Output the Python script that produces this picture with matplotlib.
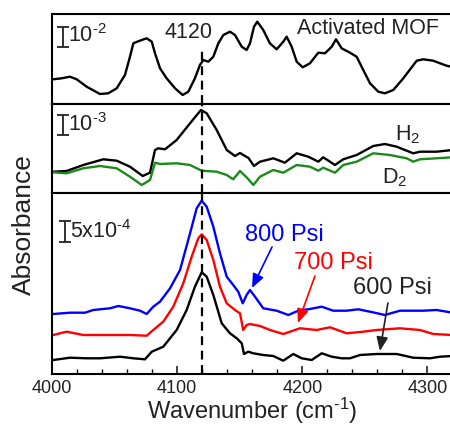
import numpy as np
import matplotlib
matplotlib.use('Agg')
import matplotlib.pyplot as plt

plt.rcParams['font.family'] = ['Liberation Sans', 'DejaVu Sans']
plt.rcParams['mathtext.fontset'] = 'custom'
plt.rcParams['mathtext.rm'] = 'Liberation Sans'
plt.rcParams['mathtext.it'] = 'Liberation Sans:italic'

# Activated MOF (top panel), arbitrary units
mof_wn = [4001.0, 4007.7, 4014.4, 4019.7, 4027.7, 4038.3, 4045.0, 4051.7, 4058.3, 4062.3,
          4065.0, 4068.1, 4071.7, 4075.7, 4079.7, 4082.3, 4086.3, 4091.6, 4098.3, 4104.4,
          4108.9, 4114.2, 4118.2, 4120.9, 4124.9, 4128.9, 4132.9, 4136.9, 4142.2, 4146.2,
          4151.6, 4155.5, 4158.2, 4161.4, 4164.0, 4168.8, 4174.1, 4179.5, 4184.8, 4187.5,
          4191.5, 4195.5, 4200.3, 4206.1, 4212.8, 4218.1, 4223.5, 4226.9, 4231.4, 4238.1,
          4243.4, 4248.7, 4254.1, 4260.7, 4266.0, 4272.7, 4280.7, 4291.4, 4296.6, 4304.6,
          4310.0, 4315.3, 4320.0]
mof_abs = [24.7, 25.7, 27.3, 24.7, 17.3, 10.0, 10.7, 15.7, 29.0, 47.3,
           60.7, 62.3, 64.0, 65.7, 62.3, 50.7, 35.7, 25.7, 15.7, 9.0,
           12.3, 25.7, 39.0, 44.0, 42.3, 47.3, 60.7, 69.0, 72.3, 69.0,
           57.3, 54.0, 60.7, 77.3, 82.3, 74.0, 60.7, 54.7, 62.3, 67.3,
           57.3, 42.3, 36.7, 40.7, 51.3, 50.7, 57.3, 64.7, 55.7, 51.3,
           47.3, 34.0, 20.7, 12.3, 10.7, 14.0, 25.7, 43.3, 44.7, 43.3,
           40.7, 38.3, 37.0]

# H2 and D2 loaded (middle panel)
h2_wn = [4001.0, 4011.7, 4025.0, 4041.0, 4051.7, 4062.3, 4072.5, 4078.3, 4082.3, 4084.9,
         4090.3, 4099.6, 4110.3, 4119.0, 4123.6, 4131.6, 4139.6, 4146.2, 4150.2, 4154.2,
         4157.0, 4161.4, 4166.2, 4176.8, 4186.1, 4195.5, 4204.8, 4212.8, 4216.7, 4226.1,
         4232.7, 4243.4, 4256.7, 4266.0, 4275.4, 4288.6, 4294.0, 4307.3, 4320.0]
h2_abs = [21.3, 22.0, 28.0, 33.7, 32.3, 26.3, 17.0, 20.3, 43.0, 44.7,
          43.7, 53.0, 69.7, 83.0, 79.7, 63.0, 43.0, 37.0, 40.0, 37.0,
          35.0, 27.0, 31.3, 34.7, 30.3, 39.7, 36.3, 31.3, 35.7, 28.0,
          33.7, 38.0, 47.0, 49.0, 46.3, 39.7, 41.3, 41.3, 43.0]
d2_wn = [4001.0, 4011.7, 4025.0, 4038.3, 4051.7, 4062.3, 4071.7, 4078.3, 4082.3, 4086.3,
         4099.6, 4110.3, 4119.6, 4131.6, 4139.6, 4144.8, 4150.2, 4156.0, 4160.9, 4166.2,
         4176.8, 4184.8, 4195.5, 4206.1, 4212.8, 4216.7, 4226.1, 4232.7, 4243.4, 4256.7,
         4270.0, 4283.4, 4288.6, 4294.0, 4320.0]
d2_abs = [20.7, 19.7, 24.7, 27.0, 24.7, 16.3, 8.0, 13.0, 30.3, 29.0,
          29.7, 28.0, 22.3, 21.3, 18.0, 13.7, 22.0, 15.0, 8.0, 16.3,
          23.0, 20.3, 28.0, 26.3, 22.3, 25.3, 20.3, 28.0, 31.3, 39.7,
          38.0, 34.7, 31.3, 33.7, 35.7]

# pressure series (bottom panel)
p800_wn = [4001.0, 4014.4, 4026.4, 4033.0, 4046.3, 4053.0, 4062.3, 4070.3, 4075.7, 4080.9,
           4086.3, 4094.3, 4102.3, 4110.3, 4115.6, 4119.6, 4123.6, 4128.9, 4134.2, 4139.6,
           4144.8, 4148.8, 4152.4, 4155.5, 4158.2, 4162.2, 4168.8, 4179.5, 4188.8, 4198.1,
           4204.8, 4215.5, 4224.7, 4235.4, 4244.7, 4254.1, 4266.0, 4278.0, 4296.6, 4307.3,
           4320.0]
p800_abs = [60.0, 61.3, 61.3, 64.0, 65.7, 68.0, 65.7, 63.3, 60.0, 67.3,
            72.3, 85.7, 104.0, 140.7, 165.7, 173.3, 167.3, 147.3, 120.7, 97.3,
            89.0, 82.3, 70.7, 79.0, 84.0, 77.3, 65.7, 63.3, 59.0, 64.0,
            64.7, 67.3, 63.3, 63.3, 64.7, 62.3, 59.0, 63.3, 63.3, 64.0,
            61.3]
p700_wn = [4001.0, 4011.7, 4025.0, 4038.3, 4051.7, 4062.3, 4075.7, 4080.9, 4088.9, 4096.9,
           4104.9, 4111.6, 4116.9, 4119.6, 4123.6, 4128.9, 4134.2, 4139.6, 4146.2, 4150.2,
           4152.8, 4155.5, 4158.2, 4166.2, 4174.2, 4184.8, 4198.1, 4211.5, 4222.1, 4235.4,
           4248.7, 4259.4, 4278.0, 4294.0, 4304.6, 4320.0]
p700_abs = [39.0, 42.3, 39.0, 39.0, 39.0, 39.0, 38.3, 44.0, 52.3, 67.3,
            90.7, 117.3, 135.7, 139.7, 134.0, 114.0, 87.3, 70.7, 64.0, 60.7,
            44.0, 49.0, 50.0, 48.0, 44.0, 40.0, 45.7, 44.0, 46.7, 40.7,
            42.3, 44.0, 45.7, 44.0, 40.0, 39.0]
p600_wn = [4001.0, 4014.4, 4027.7, 4038.3, 4054.3, 4065.0, 4074.3, 4079.7, 4088.9, 4099.6,
           4107.6, 4114.2, 4119.6, 4123.6, 4128.9, 4135.6, 4142.2, 4147.6, 4151.6, 4153.4,
           4156.8, 4160.8, 4168.8, 4176.8, 4184.8, 4192.8, 4199.5, 4207.5, 4215.5, 4223.5,
           4231.4, 4238.1, 4246.1, 4259.4, 4275.4, 4288.6, 4302.0, 4310.0, 4320.0]
p600_abs = [14.0, 16.3, 15.7, 15.7, 17.3, 15.7, 14.7, 22.3, 27.3, 44.0,
            64.0, 87.3, 101.7, 97.3, 79.0, 50.7, 40.7, 35.7, 30.7, 20.0,
            22.3, 20.7, 19.0, 18.0, 13.3, 20.0, 15.7, 14.0, 20.7, 17.3,
            15.7, 15.7, 19.0, 20.0, 20.0, 16.3, 15.7, 17.3, 18.0]

peak = 4120
lw = 1.7
ink = '#222222'

fig = plt.figure(figsize=(4.5, 4.25), dpi=100)
x0, w = 52 / 450, 400.5 / 450
ax_top = fig.add_axes([x0, 321 / 425, w, 90 / 425])
ax_mid = fig.add_axes([x0, 232 / 425, w, 89 / 425])
ax_bot = fig.add_axes([x0, 51 / 425, w, 181 / 425])

for ax, top in ((ax_top, 90), (ax_mid, 89), (ax_bot, 181)):
    ax.set_xlim(4000, 4320)
    ax.set_ylim(0, top)
    ax.set_yticks([])
    for s in ax.spines.values():
        s.set_linewidth(1.5)

for ax in (ax_top, ax_mid):
    ax.set_xticks([])

ax_top.plot(mof_wn, mof_abs, color='black', lw=lw)
ax_mid.plot(h2_wn, h2_abs, color='black', lw=lw)
ax_mid.plot(d2_wn, d2_abs, color='#1b8a1b', lw=lw)
ax_bot.plot(p800_wn, p800_abs, color='#0000ff', lw=lw)
ax_bot.plot(p700_wn, p700_abs, color='#ff0000', lw=lw)
ax_bot.plot(p600_wn, p600_abs, color='black', lw=lw)

# dashed marker at 4120
dash = dict(color='black', lw=1.6, ls=(0, (4, 2.5)))
ax_top.axvline(peak, ymin=0, ymax=56 / 90, **dash)
ax_mid.axvline(peak, **dash)
ax_bot.axvline(peak, **dash)

# scale bars
bar = dict(fmt='none', ecolor=ink, elinewidth=1.3, capsize=4, capthick=1.3)
ax_top.errorbar([4009], [67.3], yerr=[10], **bar)
ax_mid.errorbar([4009], [68], yerr=[10], **bar)
ax_bot.errorbar([4010.4], [142.5], yerr=[10.8], **bar)
tk = dict(fontsize=15.5, color=ink, va='center', ha='left')
ax_top.text(4013, 68, r'10$^{\text{-}2}$', **tk)
ax_mid.text(4013, 68, r'10$^{\text{-}3}$', **tk)
ax_bot.text(4014, 142, r'5x10$^{\text{-}4}$', **tk)

ax_top.text(4108.7, 71, '4120', fontsize=15.5, color=ink, ha='center', va='center')
ax_top.text(4252.5, 76, 'Activated MOF', fontsize=15.5, color=ink, ha='center', va='center')
ax_mid.text(4284, 58, 'H$_2$', fontsize=15.5, color=ink, ha='center', va='center')
ax_mid.text(4274, 15, 'D$_2$', fontsize=15.5, color=ink, ha='center', va='center')

# pressure labels with arrows
labels = [('800 Psi', '#0000ff', (4186, 139), (4175.8, 127), (4159.8, 86)),
          ('700 Psi', '#ff0000', (4224.5, 111), (4210.1, 98), (4196.5, 51)),
          ('600 Psi', ink, (4272.4, 86), (4268.4, 71), (4262, 23))]
for txt, c, pos, tail, head in labels:
    ax_bot.text(pos[0], pos[1], txt, color=c, fontsize=17, ha='center', va='center')
    ax_bot.annotate('', xy=head, xytext=tail,
                    arrowprops=dict(arrowstyle='-|>,head_length=0.6,head_width=0.25',
                                    color=c, lw=1.2, mutation_scale=14,
                                    shrinkA=0, shrinkB=0))

ax_bot.set_xticks([4000, 4100, 4200, 4300])
ax_bot.set_xticks(np.arange(4000, 4321, 20), minor=True)
ax_bot.tick_params(axis='x', which='major', direction='in', length=6, width=1.2,
                   labelsize=13, pad=4.5, colors=ink, top=False)
ax_bot.tick_params(axis='x', which='minor', direction='in', length=3.5, width=1.0, top=False)
ax_bot.set_xlabel(r'Wavenumber (cm$^{\text{-}1}$)', fontsize=17, color=ink, labelpad=-0.8)

fig.text(24 / 450, 1 - 225 / 425, 'Absorbance', rotation=90, fontsize=19,
         color=ink, ha='center', va='center')

fig.savefig('out.png', dpi=100)
